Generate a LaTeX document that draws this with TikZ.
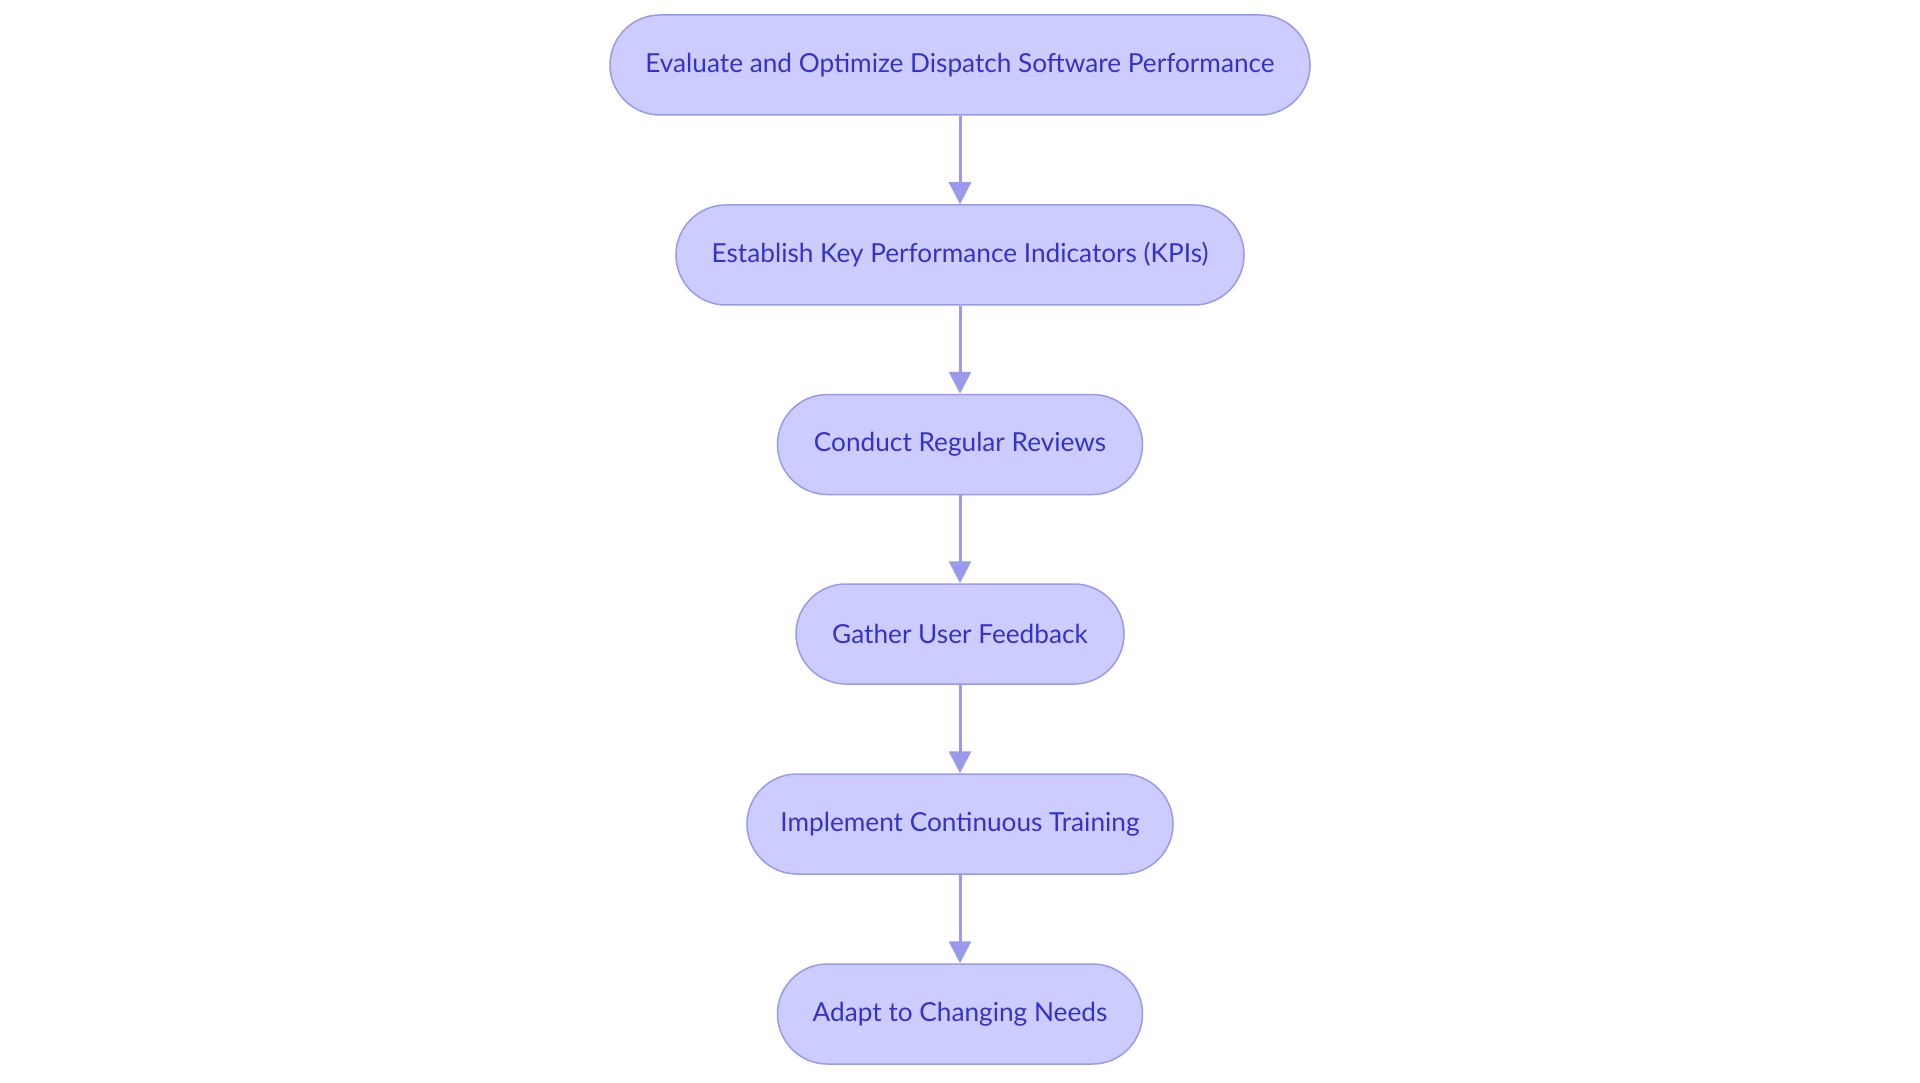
\documentclass[tikz,border=0pt]{standalone}
\usepackage{fontspec}
\setmainfont{Lato}
\usetikzlibrary{arrows.meta}
\definecolor{nfill}{RGB}{204,204,255}
\definecolor{ndraw}{RGB}{153,153,238}
\definecolor{ntext}{RGB}{51,51,204}
\begin{document}
\begin{tikzpicture}[x=1pt,y=1pt,
  stepnode/.style={draw=ndraw,fill=nfill,line width=1.5pt,rounded corners=50pt,
    minimum height=100pt,inner sep=0pt,text=ntext,font=\fontsize{26.2}{31}\selectfont},
  flow/.style={draw=ndraw,line width=3pt,-{Triangle[length=22pt,width=22pt]}}]
\useasboundingbox (0,0) rectangle (1920,-1083);
\node[stepnode,minimum width=700pt] (n1) at (960,-65) {Evaluate and Optimize Dispatch Software Performance};
\node[stepnode,minimum width=568pt] (n2) at (960,-255) {Establish Key Performance Indicators (KPIs)};
\node[stepnode,minimum width=365pt] (n3) at (960,-444.5) {Conduct Regular Reviews};
\node[stepnode,minimum width=328pt] (n4) at (960,-634) {Gather User Feedback};
\node[stepnode,minimum width=426pt] (n5) at (960,-824) {Implement Continuous Training};
\node[stepnode,minimum width=365pt] (n6) at (960,-1014) {Adapt to Changing Needs};
\draw[flow] (n1) -- (n2);
\draw[flow] (n2) -- (n3);
\draw[flow] (n3) -- (n4);
\draw[flow] (n4) -- (n5);
\draw[flow] (n5) -- (n6);
\end{tikzpicture}
\end{document}
